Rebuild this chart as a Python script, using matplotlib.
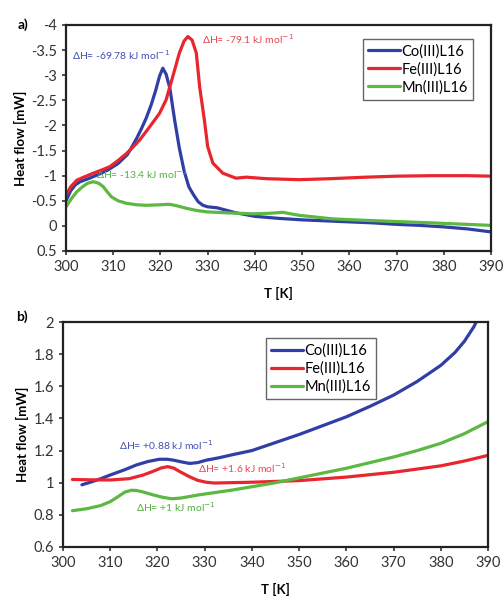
import matplotlib.pyplot as plt
from matplotlib.ticker import FuncFormatter

plt.rcParams['font.family'] = ['Lato', 'DejaVu Sans']
plt.rcParams['axes.unicode_minus'] = False

## a) heating curves
t_co_a = [300, 301, 302, 303, 305, 307, 309, 311, 313, 314, 315, 316, 317, 318, 319, 319.8, 320.5, 321.2, 322, 323, 324, 325, 326, 327, 328, 329, 330, 332, 334, 336, 340, 345, 350, 355, 360, 365, 370, 375, 380, 385, 390]
co_a = [-0.50, -0.70, -0.82, -0.88, -0.95, -1.03, -1.12, -1.24, -1.42, -1.58, -1.75, -1.94, -2.15, -2.4, -2.7, -2.98, -3.14, -3.02, -2.74, -2.11, -1.55, -1.1, -0.78, -0.62, -0.48, -0.41, -0.38, -0.36, -0.31, -0.26, -0.19, -0.15, -0.12, -0.1, -0.08, -0.06, -0.03, -0.01, 0.02, 0.06, 0.12]

t_fe_a = [300, 301, 302.3, 304, 305.8, 307.5, 309.3, 311, 312.8, 314, 315.6, 317.7, 319.8, 321.2, 322.6, 324, 325, 325.8, 326.7, 327.6, 328.3, 329.3, 330, 331.1, 333.2, 336, 338.2, 342.4, 349.4, 356, 363.5, 370, 377.5, 385, 390]
fe_a = [-0.61, -0.78, -0.91, -0.98, -1.05, -1.11, -1.18, -1.3, -1.44, -1.55, -1.71, -1.97, -2.24, -2.51, -2.97, -3.44, -3.68, -3.77, -3.7, -3.44, -2.77, -2.11, -1.58, -1.25, -1.05, -0.95, -0.97, -0.94, -0.92, -0.94, -0.97, -0.99, -1.0, -1.0, -0.99]

t_mn_a = [300, 301.2, 302.3, 303.5, 304.6, 305.8, 306.9, 307.9, 308.8, 309.6, 311, 312.8, 315, 317, 319.9, 321.9, 323.5, 325.5, 327.5, 329.7, 334, 339.6, 343, 345.9, 349.4, 356.4, 363.5, 377.5, 390]
mn_a = [-0.38, -0.55, -0.68, -0.78, -0.85, -0.88, -0.85, -0.78, -0.67, -0.58, -0.5, -0.45, -0.42, -0.41, -0.42, -0.43, -0.4, -0.35, -0.31, -0.28, -0.26, -0.24, -0.25, -0.27, -0.21, -0.14, -0.11, -0.06, -0.01]

## b) cooling curves
t_co_b = [304, 306, 308, 310, 313, 315.5, 318, 320.4, 322, 323.3, 325, 326.8, 328.5, 330.3, 333, 336, 340, 345, 350, 355, 360, 365, 370, 375, 380, 383, 385, 387, 387.5]
co_b = [0.987, 1.005, 1.025, 1.048, 1.08, 1.11, 1.132, 1.146, 1.146, 1.141, 1.13, 1.12, 1.125, 1.14, 1.155, 1.175, 1.2, 1.25, 1.3, 1.355, 1.41, 1.475, 1.545, 1.63, 1.73, 1.81, 1.88, 1.97, 2.0]

t_fe_b = [302, 306, 310, 314, 317, 319, 320.8, 322.2, 323.5, 325, 326.8, 328.5, 330.3, 332, 340, 350, 360, 370, 375, 380, 385, 390]
fe_b = [1.02, 1.018, 1.017, 1.025, 1.048, 1.07, 1.092, 1.1, 1.09, 1.065, 1.037, 1.015, 1.003, 0.998, 1.003, 1.013, 1.035, 1.065, 1.085, 1.105, 1.135, 1.17]

t_mn_b = [302, 305, 308, 310, 312, 313.2, 314.5, 315.5, 317, 319, 321, 323, 325, 328.9, 332, 336, 340, 345, 350, 355, 360, 365, 370, 375, 380, 385, 390]
mn_b = [0.826, 0.838, 0.858, 0.882, 0.92, 0.943, 0.953, 0.952, 0.942, 0.925, 0.91, 0.9, 0.905, 0.925, 0.938, 0.955, 0.975, 1.0, 1.03, 1.06, 1.09, 1.125, 1.16, 1.2, 1.245, 1.305, 1.38]

names = ['Co(III)L16', 'Fe(III)L16', 'Mn(III)L16']
colors = ['#2f3fa6', '#e8262e', '#5cb843']
text_colors = ['#4150b4', '#e5484f', '#52b03c']

fig = plt.figure(figsize=(5.04, 6), dpi=100)
ax1 = fig.add_axes([66/504, 1-251/600, 425/504, 226/600])
ax2 = fig.add_axes([63/504, 1-547/600, 425/504, 225/600])

fmt = FuncFormatter(lambda v, p: '%g' % v)

for ax, data in [(ax1, [(t_co_a, co_a), (t_fe_a, fe_a), (t_mn_a, mn_a)]),
                 (ax2, [(t_co_b, co_b), (t_fe_b, fe_b), (t_mn_b, mn_b)])]:
    for (t, v), c, n in zip(data, colors, names):
        ax.plot(t, v, color=c, lw=2.3, label=n, solid_capstyle='round', solid_joinstyle='round')
    ax.set_xlim(300, 390)
    ax.set_xticks(range(300, 391, 10))
    ax.yaxis.set_major_formatter(fmt)
    ax.tick_params(labelsize=10.5, direction='out', length=3, width=1.2, colors='#333333', labelcolor='#333333')
    for s in ax.spines.values():
        s.set_linewidth(1.6)
        s.set_color('#222222')
    ax.set_xlabel('T [K]', fontsize=9.5, fontweight='bold', labelpad=9)
    ax.set_ylabel('Heat flow [mW]', fontsize=9.5, fontweight='bold', labelpad=3)

ax1.set_ylim(0.5, -4)
ax1.set_yticks([-4, -3.5, -3, -2.5, -2, -1.5, -1, -0.5, 0, 0.5])
ax2.set_ylim(0.6, 2)
ax2.set_yticks([0.6, 0.8, 1, 1.2, 1.4, 1.6, 1.8, 2])

leg1 = ax1.legend(loc='upper right', bbox_to_anchor=(0.975, 0.97), fontsize=10.5, handlelength=2.2,
                  handletextpad=0.1, borderpad=0.35, labelspacing=0.25, fancybox=False, framealpha=1)
leg2 = ax2.legend(loc='upper left', bbox_to_anchor=(0.46, 0.96), fontsize=10.5, handlelength=2.2,
                  handletextpad=0.1, borderpad=0.35, labelspacing=0.25, fancybox=False, framealpha=1)
for lg in (leg1, leg2):
    lg.get_frame().set_edgecolor('#666666')
    lg.get_frame().set_linewidth(1.0)

mol = r' kJ mol$^{-1}$'
ax1.text(301.3, -3.3, 'ΔH= -69.78' + mol, color=text_colors[0], fontsize=7.5)
ax1.text(328.7, -3.62, 'ΔH= -79.1' + mol, color=text_colors[1], fontsize=7.5)
ax1.text(306.3, -0.93, 'ΔH= -13.4' + mol, color=text_colors[2], fontsize=7.5)
ax2.text(311.8, 1.205, 'ΔH= +0.88' + mol, color=text_colors[0], fontsize=7.5)
ax2.text(328.5, 1.058, 'ΔH= +1.6' + mol, color=text_colors[1], fontsize=7.5)
ax2.text(315.4, 0.815, 'ΔH= +1' + mol, color=text_colors[2], fontsize=7.5)

fig.text(18/504, 1-25/600, 'a)', fontsize=10, fontweight='bold', va='center')
fig.text(16/504, 1-317/600, 'b)', fontsize=10, fontweight='bold', va='center')

fig.savefig('out.png', dpi=100)
